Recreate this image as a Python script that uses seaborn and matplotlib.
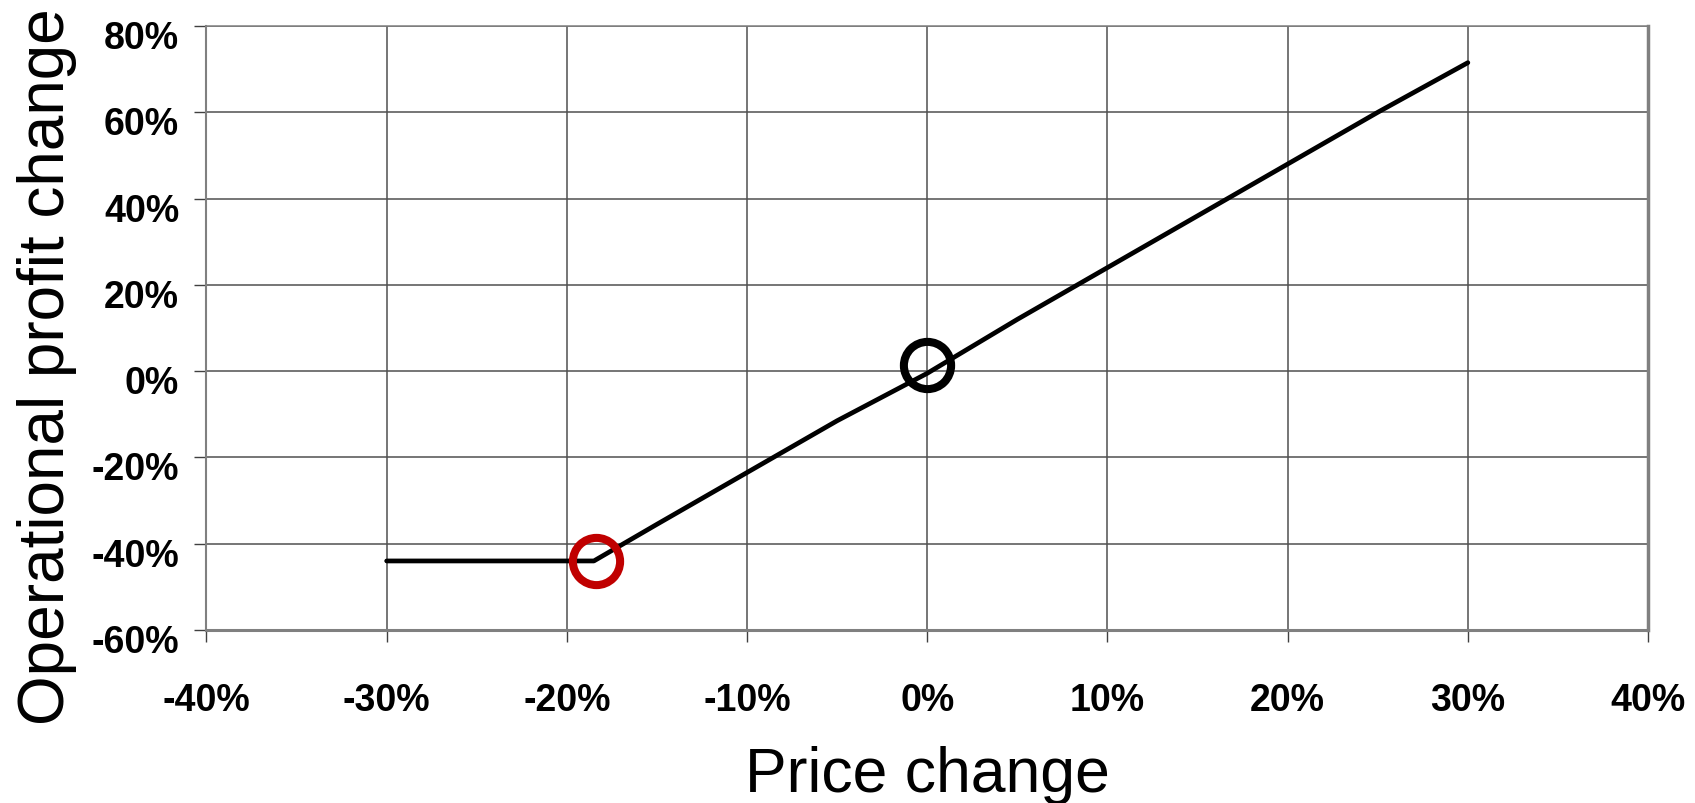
import matplotlib
matplotlib.use("Agg")
import matplotlib.pyplot as plt
import matplotlib.transforms as mtransforms
import seaborn as sns
import pandas as pd
from matplotlib.ticker import FuncFormatter, MultipleLocator

# price change (%) vs operational profit change (%)
price_change = [-30, -18.5, -15, -10, -5, 0, 5, 10, 15, 20, 25, 30]
profit_change = [-44, -44, -35.5, -23.5, -11.5, -0.5, 12, 24, 36, 48, 60, 71.5]

# highlighted points
base_point = (0, 1.5)
floor_point = (-18.4, -44)

df = pd.DataFrame({"price": price_change, "profit": profit_change})

sns.set_style("white")
plt.rcParams["font.family"] = ["Liberation Sans", "DejaVu Sans"]

fig = plt.figure(figsize=(16.95, 8.04), dpi=100)
ax = fig.add_axes([0.1218, 0.2152, 0.8505, 0.7512])

sns.lineplot(data=df, x="price", y="profit", sort=False, estimator=None,
             color="black", linewidth=3.4, ax=ax, zorder=3)
ax.plot(*base_point, marker="o", markersize=34, markerfacecolor="none",
        markeredgecolor="black", markeredgewidth=5.8, zorder=4)
ax.plot(*floor_point, marker="o", markersize=34, markerfacecolor="none",
        markeredgecolor="#c00000", markeredgewidth=5.8, zorder=4)

ax.set_xlim(-40, 40)
ax.set_ylim(-60, 80)
ax.xaxis.set_major_locator(MultipleLocator(10))
ax.yaxis.set_major_locator(MultipleLocator(20))
pct = FuncFormatter(lambda v, _: f"{v:.0f}%")
ax.xaxis.set_major_formatter(pct)
ax.yaxis.set_major_formatter(pct)

ax.grid(True, color="#505050", linewidth=1.1)
ax.set_axisbelow(True)
for side in ["left", "bottom", "right", "top"]:
    ax.spines[side].set_visible(True)
    ax.spines[side].set_color("#808080")
ax.spines["left"].set_linewidth(1.5)
ax.spines["bottom"].set_linewidth(2.2)
ax.spines["right"].set_linewidth(2.5)
ax.spines["top"].set_linewidth(1.1)

ax.tick_params(axis="both", direction="out", length=8.6, width=1, color="#404040",
               left=True, bottom=True, labelsize=27, labelcolor="black")
ax.tick_params(axis="x", pad=29)
ax.tick_params(axis="y", pad=11)
for lab in ax.get_xticklabels() + ax.get_yticklabels():
    lab.set_fontweight("bold")

# y tick labels sit a little below their grid lines in the original
shift = mtransforms.ScaledTranslation(0, -8 / 100, fig.dpi_scale_trans)
for tick in ax.yaxis.get_major_ticks():
    tick.label1.set_transform(tick.label1.get_transform() + shift)

ax.set_xlabel("Price change", fontsize=45, color="black")
ax.xaxis.set_label_coords(0.5, -0.19)
ax.set_ylabel("Operational profit change", fontsize=46, color="black")
ax.yaxis.set_label_coords(-0.090, 0.437)

fig.savefig("out.png", dpi=100)
